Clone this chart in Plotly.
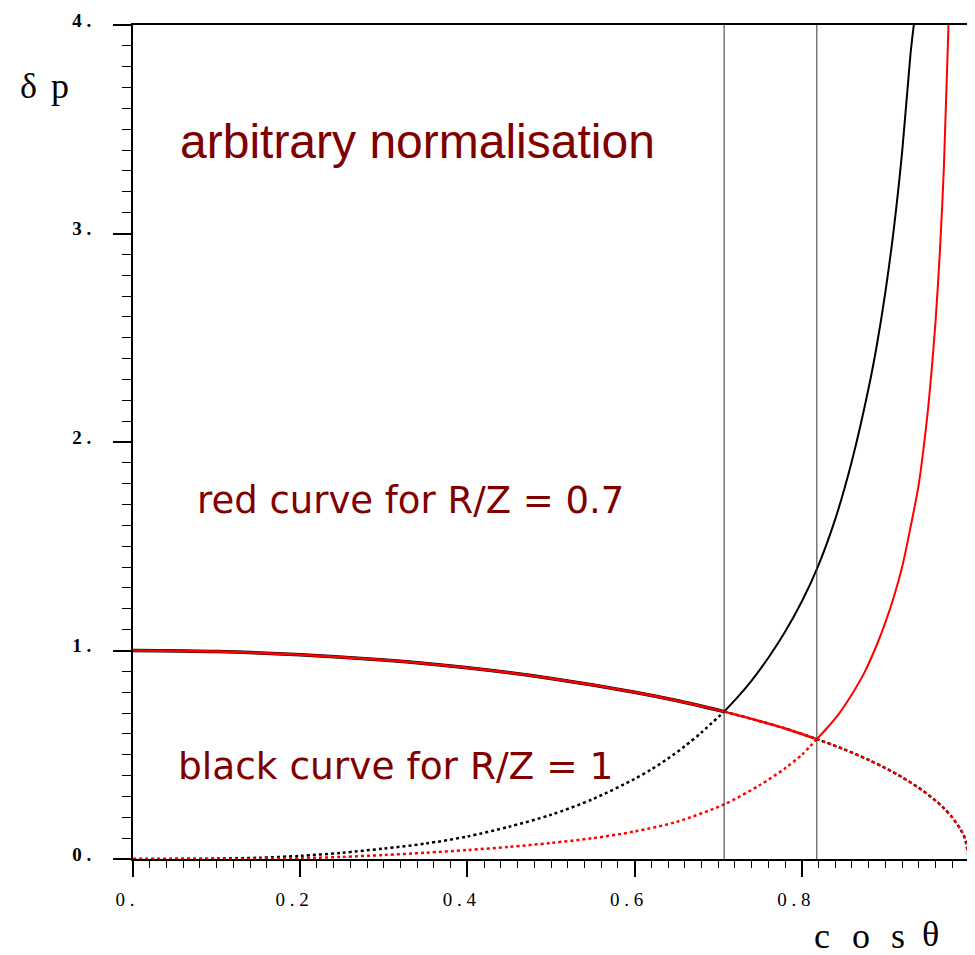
import plotly.graph_objects as go

# ---- data ----
cos_theta = [0.0, 0.1, 0.2, 0.3, 0.4, 0.5, 0.6, 0.65, 0.7071, 0.75, 0.78, 0.818,
             0.85, 0.88, 0.9, 0.92, 0.94, 0.96, 0.97, 0.98, 0.99, 0.995, 1.0]
sin_curve = [1.0, 0.995, 0.98, 0.954, 0.917, 0.866, 0.80, 0.76, 0.707, 0.661, 0.626, 0.575,
             0.527, 0.475, 0.436, 0.392, 0.341, 0.28, 0.243, 0.199, 0.141, 0.10, 0.0]

black_x = [0.0, 0.1, 0.15, 0.2, 0.25, 0.3, 0.35, 0.4, 0.45, 0.5, 0.55, 0.6, 0.62, 0.64, 0.66, 0.68,
           0.7071, 0.72, 0.74, 0.76, 0.78, 0.8, 0.82, 0.84, 0.86, 0.88, 0.89, 0.9, 0.91, 0.92, 0.93, 0.934]
black_y = [0.0, 0.002, 0.006, 0.015, 0.030, 0.050, 0.074, 0.108, 0.155, 0.212, 0.287, 0.384, 0.43, 0.482, 0.541, 0.607,
           0.707, 0.762, 0.856, 0.965, 1.09, 1.235, 1.41, 1.63, 1.91, 2.26, 2.47, 2.72, 3.02, 3.39, 3.86, 4.0]

red_x = [0.0, 0.1, 0.2, 0.25, 0.3, 0.35, 0.4, 0.45, 0.5, 0.55, 0.6, 0.65, 0.7071, 0.75, 0.78, 0.8,
         0.818, 0.83, 0.845, 0.86, 0.875, 0.89, 0.9, 0.91, 0.92, 0.93, 0.94, 0.95, 0.955, 0.96,
         0.965, 0.97, 0.9755]
red_y = [0.0, 0.0005, 0.004, 0.010, 0.019, 0.030, 0.043, 0.058, 0.077, 0.100, 0.132, 0.178, 0.262, 0.355, 0.435, 0.50,
         0.575, 0.627, 0.70, 0.79, 0.895, 1.03, 1.135, 1.255, 1.40, 1.59, 1.80, 2.12, 2.33, 2.58,
         2.90, 3.32, 4.0]

black_cross = 0.7071   # R/Z = 1
red_cross = 0.818      # R/Z = 0.7

x_tickvals = [0.0, 0.2, 0.4, 0.6, 0.8, 1.0]
x_ticktext = ["0 .", "0 . 2", "0 . 4", "0 . 6", "0 . 8", ""]
y_tickvals = [0, 1, 2, 3, 4]
y_ticktext = ["0 .", "1 .", "2 .", "3 .", "4 ."]


def part(xs, ys, lo, hi):
    px, py = [], []
    for a, b in zip(xs, ys):
        if lo <= a <= hi:
            px.append(a)
            py.append(b)
    return px, py


fig = go.Figure()


def add_family(color, cross, rx, ry, sin_w):
    sx, sy = part(cos_theta, sin_curve, 0, cross)
    fig.add_trace(go.Scatter(x=sx, y=sy, mode="lines",
                             line=dict(color=color, width=sin_w, shape="spline", smoothing=0.8), showlegend=False))
    sx, sy = part(cos_theta, sin_curve, cross, 1.0)
    fig.add_trace(go.Scatter(x=sx, y=sy, mode="lines",
                             line=dict(color=color, width=2.5, dash="dot", shape="spline", smoothing=0.8), showlegend=False))
    ax, ay = part(rx, ry, 0, cross)
    fig.add_trace(go.Scatter(x=ax, y=ay, mode="lines",
                             line=dict(color=color, width=2.5, dash="dot", shape="spline", smoothing=0.8), showlegend=False))
    ax, ay = part(rx, ry, cross, 1.0)
    fig.add_trace(go.Scatter(x=ax, y=ay, mode="lines",
                             line=dict(color=color, width=2, shape="spline", smoothing=0.8), showlegend=False))


add_family("black", black_cross, black_x, black_y, 3.5)
add_family("#ff0000", red_cross, red_x, red_y, 2.5)

for c in (black_cross, red_cross):
    fig.add_vline(x=c, line=dict(color="#333333", width=1))

serif = "Liberation Serif"
# page has an 8px body margin: figure is sized so the plot lands where the reference has it
fig.update_layout(
    width=967, height=947,
    margin=dict(l=125, r=6, t=17, b=96, autoexpand=False),
    paper_bgcolor="white", plot_bgcolor="white",
    xaxis=dict(range=[0, 1], showgrid=False, zeroline=False, showline=True, linecolor="black",
               linewidth=2, mirror=True, ticks="outside", ticklen=16, tickwidth=2, tickcolor="black",
               tickmode="array", tickvals=x_tickvals, ticktext=x_ticktext, automargin=False,
               tickfont=dict(family=serif, size=19, color="black"), ticklabelshift=-8, ticklabelstandoff=6,
               minor=dict(tickmode="linear", tick0=0, dtick=0.02, ticks="outside", ticklen=7,
                          tickwidth=1, tickcolor="black", showgrid=False)),
    xaxis2=dict(range=[0, 1], overlaying="x", anchor="y", side="bottom", showgrid=False, zeroline=False,
                showline=False, ticks="outside", tickmode="linear", tick0=0, dtick=0.1, ticklen=11,
                tickwidth=1.5, tickcolor="black", showticklabels=False, automargin=False),
    yaxis=dict(range=[0, 4], showgrid=False, zeroline=False, showline=True, linecolor="black",
               linewidth=2, mirror=True, ticks="outside", ticklen=18, tickwidth=2, tickcolor="black",
               tickmode="array", tickvals=y_tickvals, ticktext=y_ticktext, automargin=False,
               tickfont=dict(family=serif, size=19, color="black", weight="bold"),
               ticklabelstandoff=18, ticklabelshift=-5,
               minor=dict(tickmode="linear", tick0=0, dtick=0.1, ticks="outside", ticklen=9,
                          tickwidth=1, tickcolor="black", showgrid=False)),
    yaxis2=dict(range=[0, 4], overlaying="y", anchor="x", side="left", showgrid=False, zeroline=False,
                showline=False, ticks="outside", tickmode="linear", tick0=0, dtick=0.5, ticklen=13,
                tickwidth=1.5, tickcolor="black", showticklabels=False, automargin=False),
)


def px2paper(px, py):
    return (px - 133) / 836.0, (859 - py) / 834.0


maroon = "#800000"
labels = [
    ("arbitrary normalisation", 178, 141, "Liberation Sans", 48),
    ("red curve for R/Z = 0.7", 195, 500, "DejaVu Sans", 37),
    ("black curve for R/Z = 1", 176, 766, "DejaVu Sans", 37.5),
]
for txt, lx, ly, fam, sz in labels:
    x, y = px2paper(lx, ly)
    fig.add_annotation(text=txt, x=x, y=y, xref="paper", yref="paper", xanchor="left", yanchor="middle",
                       showarrow=False, font=dict(family=fam, size=sz, color=maroon))

for ch, cx, cy, sz in [("δ", 28, 86, 36), ("p", 60, 86, 36),
                       ("c", 822, 936, 36), ("o", 861, 936, 36), ("s", 898, 936, 36), ("θ", 930, 934, 36)]:
    x, y = px2paper(cx, cy)
    fig.add_annotation(text=ch, x=x, y=y, xref="paper", yref="paper", xanchor="center", yanchor="middle",
                       showarrow=False, font=dict(family=serif, size=sz, color="black"))

fig.write_html("out.html")
